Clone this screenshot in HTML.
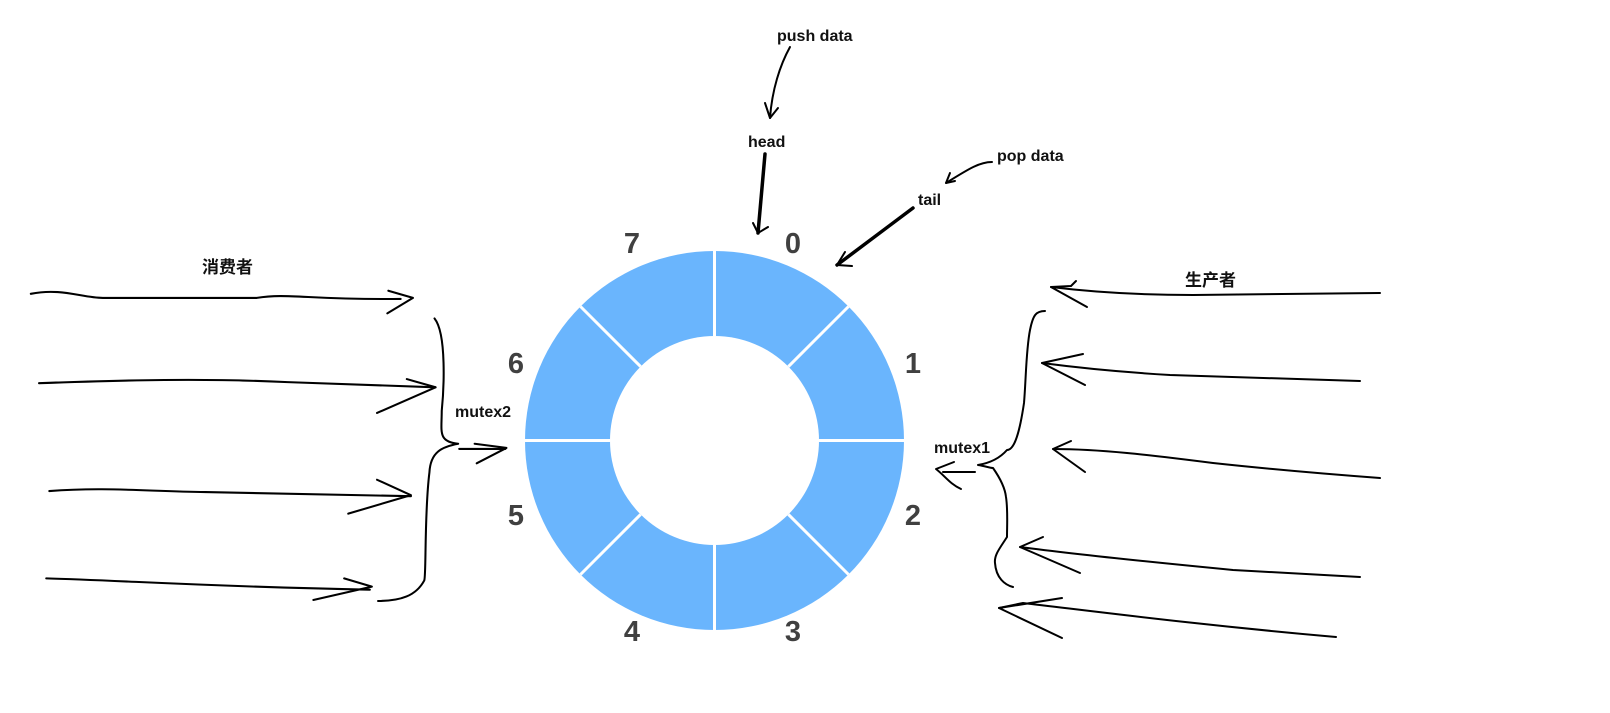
<!DOCTYPE html>
<html><head><meta charset="utf-8"><style>
html,body{margin:0;padding:0;background:#fff;}
svg{display:block;}
text{font-family:"Liberation Sans","Noto Sans CJK SC",sans-serif;font-weight:bold;}
</style></head><body>
<svg width="1610" height="713" viewBox="0 0 1610 713" xmlns="http://www.w3.org/2000/svg">
<rect width="1610" height="713" fill="#fff"/>
<circle cx="714.5" cy="440.5" r="189.5" fill="#6ab5fd"/>
<circle cx="714.5" cy="440.5" r="104.5" fill="#fff"/>
<g stroke="#fff" stroke-width="3">
<line x1="714.5" y1="250" x2="714.5" y2="336"/>
<line x1="714.5" y1="545" x2="714.5" y2="631"/>
<line x1="524" y1="440.5" x2="610" y2="440.5"/>
<line x1="819" y1="440.5" x2="905" y2="440.5"/>
<line x1="848.5" y1="306.5" x2="788.4" y2="366.6"/>
<line x1="580.5" y1="306.5" x2="640.6" y2="366.6"/>
<line x1="848.5" y1="574.5" x2="788.4" y2="514.4"/>
<line x1="580.5" y1="574.5" x2="640.6" y2="514.4"/>
</g>
<g fill="#404040" font-size="29" text-anchor="middle">
<text x="793" y="253">0</text>
<text x="913" y="373">1</text>
<text x="913" y="525">2</text>
<text x="793" y="641">3</text>
<text x="632" y="641">4</text>
<text x="516" y="525">5</text>
<text x="516" y="373">6</text>
<text x="632" y="253">7</text>
</g>
<g fill="#111" font-size="16">
<text x="777" y="41">push data</text>
<text x="748" y="147">head</text>
<text x="997" y="161">pop data</text>
<text x="918" y="205">tail</text>
<text x="202" y="273" font-size="17">消费者</text>
<text x="1185" y="286" font-size="17">生产者</text>
<text x="455" y="417">mutex2</text>
<text x="934" y="453">mutex1</text>
</g>
<g fill="none" stroke="#000" stroke-width="2" stroke-linecap="round" stroke-linejoin="round">
<!-- top -->
<path d="M790 47 C780 65 772 90 770 118"/>
<path d="M765 103 L770 118 L778 108"/>
<path d="M765 154 L758 233" stroke-width="3.5"/>
<path d="M753 223 L758 233 L768 227"/>
<path d="M992 162 C980 162 970 168 946 183"/>
<path d="M950 173 L946 183 L955 181"/>
<path d="M913 208 L837 265" stroke-width="3.5"/>
<path d="M837 265 L852 266 M837 265 L845 252"/>
<!-- right arrows -->
<path d="M1380 293 L1193 295 C1150 295 1100 293 1051 287"/>
<path d="M1076 281 L1071 286 L1051 287 L1087 307"/>
<path d="M1360 381 L1170 375 C1120 372 1080 368 1042 363"/>
<path d="M1083 354 L1042 363 L1085 385"/>
<path d="M1380 478 C1300 472 1250 467 1213 463 C1150 455 1100 449 1053 449"/>
<path d="M1071 441 L1053 449 L1085 472"/>
<path d="M1360 577 C1300 574 1270 572 1233 570 C1150 562 1080 555 1020 547"/>
<path d="M1043 537 L1020 547 L1080 573"/>
<path d="M1336 637 C1200 625 1100 612 1023 603 L999 608"/>
<path d="M1062 598 L999 608 L1062 638"/>
<path d="M1045 311 C1036 311 1033 315 1030 330 C1026 350 1026 380 1024 403 C1020 430 1015 450 1007 450 C1000 458 990 463 978 465 C985 466 990 468 993 468 C1000 478 1005 488 1006 497 C1008 510 1007 525 1007 537 C1000 548 994 555 995 563 C996 578 1005 585 1013 587"/>
<path d="M943 472 L975 472"/>
<path d="M954 462 L936 469 C945 476 950 484 961 489"/>
</g>
<g transform="scale(1.0273)" fill="none" stroke="#000" stroke-width="2" stroke-linecap="round" stroke-linejoin="round">
<path d="M30 286 C60 280 80 290 100 290 L250 290 C280 285 300 292 390 291"/>
<path d="M378 283 L402 290 L377 305"/>
<path d="M38 373 C120 370 200 368 280 372 L424 377"/>
<path d="M396 369 L424 377 L367 402"/>
<path d="M48 478 C100 474 140 478 200 479 L400 483"/>
<path d="M367 467 L400 482 L339 500"/>
<path d="M45 563 C120 565 200 571 360 574"/>
<path d="M335 563 L362 571 L305 584"/>
<path d="M423 310 C435 325 432 380 430 400 C430 420 426 430 446 432 C430 435 419 440 418 460 C413 500 415 560 413 565 C405 580 390 585 368 585"/>
<path d="M447 437 L492 437 M462 432 L493 436 L464 451"/>
</g>
</svg>
</body></html>
